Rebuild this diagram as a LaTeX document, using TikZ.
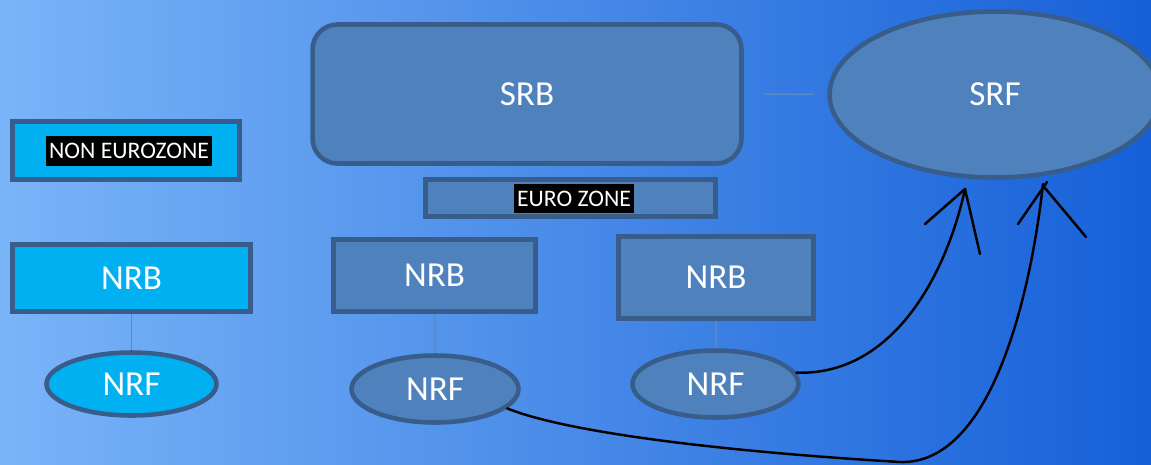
\documentclass[tikz,border=0pt]{standalone}
\usepackage{fontspec}
\setmainfont{Carlito}
\usetikzlibrary{shapes.geometric}
\definecolor{bgleft}{RGB}{122,180,248}
\definecolor{bgmid}{RGB}{70,142,232}
\definecolor{bgright}{RGB}{22,96,216}
\definecolor{boxblue}{RGB}{79,129,189}
\definecolor{boxcyan}{RGB}{0,176,240}
\definecolor{rim}{RGB}{56,93,138}
\definecolor{wire}{RGB}{90,137,196}
\def\bigtxt{\fontsize{20}{24}\selectfont}
\tikzstyle{bank}=[draw=rim,line width=2.6pt,rectangle,fill=boxblue,
                  text=white,font=\bigtxt]
\tikzstyle{fund}=[draw=rim,line width=2.6pt,ellipse,fill=boxblue,
                  text=white,font=\bigtxt]
\tikzstyle{zone}=[fill=black,text=white,inner xsep=1.5pt,inner ysep=4pt,
                  font=\fontsize{13.5}{16}\selectfont]
\tikzstyle{link}=[draw=wire,line width=1pt]
\tikzstyle{pen}=[draw=black,line width=1.4pt,line cap=round,line join=round]

\begin{document}
\begin{tikzpicture}[x=0.02cm,y=-0.02cm]
  \useasboundingbox (0,0) rectangle (1151,464);
  \clip (0,0) rectangle (1151,464);
  \fill[left color=bgleft,middle color=bgmid,right color=bgright] (0,0) rectangle (1151,464);

  % non euro zone
  \node[bank,fill=boxcyan,minimum width=4.54cm,minimum height=1.16cm] (nonez) at (126,150.5) {};
  \node[zone] (nonezlbl) at (129,151) {NON EUROZONE};
  \node[bank,fill=boxcyan,minimum width=4.76cm,minimum height=1.34cm] (nrbL) at (131.5,278) {NRB};
  \node[fund,fill=boxcyan,minimum width=3.40cm,minimum height=1.26cm] (nrfL) at (131.5,384) {NRF};
  \path[link] (nrbL) -- (nrfL);

  % single resolution board and fund
  \node[bank,rounded corners=0.5cm,minimum width=8.58cm,minimum height=2.78cm] (srb) at (527,94) {SRB};
  \node[fund,minimum width=6.62cm,minimum height=3.32cm] (srf) at (995,94.5) {SRF};
  \path[link,shorten <=0.4cm,shorten >=0.28cm] (srb) -- (srf);

  % euro zone
  \node[bank,minimum width=5.80cm,minimum height=0.74cm] (ez) at (570.5,198) {};
  \node[zone] (ezlbl) at (574,198.5) {EURO ZONE};

  \node[bank,minimum width=4.04cm,minimum height=1.44cm] (nrbM) at (434.5,275.5) {NRB};
  \node[fund,minimum width=3.34cm,minimum height=1.34cm] (nrfM) at (435,389) {NRF};
  \node[bank,minimum width=3.90cm,minimum height=1.64cm] (nrbR) at (716,277.5) {NRB};
  \node[fund,minimum width=3.32cm,minimum height=1.34cm] (nrfR) at (715.5,384) {NRF};
  \path[link] (nrbM) -- (nrfM);
  \path[link] (nrbR) -- (nrfR);

  % hand drawn arrows into the fund
  \coordinate (tipA) at (965,189);
  \coordinate (tipB) at (1043,184);
  \path[pen] (nrfR.8) .. controls (890,376) and (945,280) .. (tipA);
  \path[pen] (925,224) -- (tipA) -- (980,254);
  \path[pen] (nrfM.-15) .. controls (560,430) and (700,450) .. (900,462)
             .. controls (990,465) and (1030,300) .. (tipB);
  \path[pen] (1018,224) -- (1047,182);
  \path[pen] (1045,188) -- (1086,237);
\end{tikzpicture}
\end{document}
